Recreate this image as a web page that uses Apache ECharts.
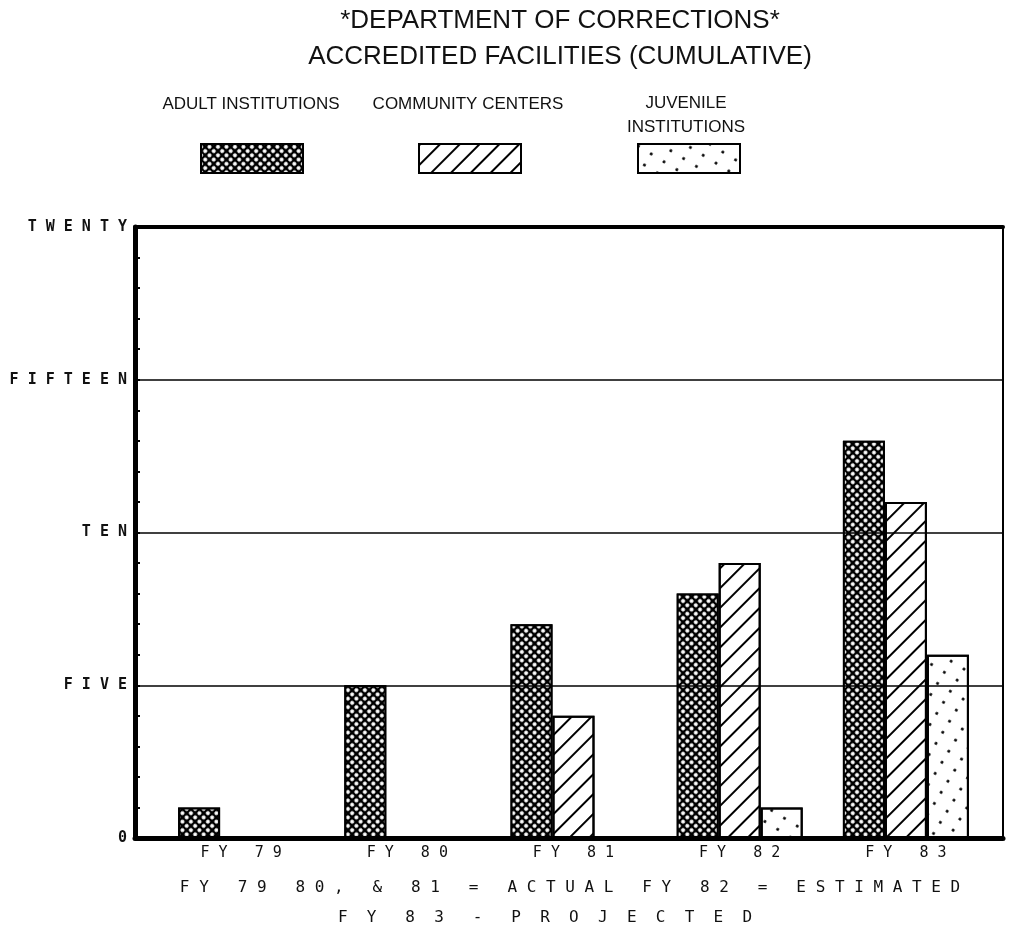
<!DOCTYPE html>
<html>
<head>
<meta charset="utf-8">
<script src="https://cdn.jsdelivr.net/npm/echarts@6/dist/echarts.min.js"></script>
<style>
  html, body { margin: 0; padding: 0; background: #fff; }
  #chart { width: 1009px; height: 946px; }
</style>
</head>
<body>
<div id="chart"></div>
<script>
// Accredited facilities per fiscal year (cumulative counts)
const categories = ['FY 79', 'FY 80', 'FY 81', 'FY 82', 'FY 83'];
const adultInstitutions = [1, 5, 7, 8, 13];
const communityCenters = [0, 0, 4, 9, 11];
const juvenileInstitutions = [0, 0, 0, 1, 6];

const seriesNames = ['ADULT INSTITUTIONS', 'COMMUNITY CENTERS', 'JUVENILE INSTITUTIONS'];
const legendLabels = [['ADULT INSTITUTIONS'], ['COMMUNITY CENTERS'], ['JUVENILE', 'INSTITUTIONS']];
const yTickValues = [0, 5, 10, 15, 20];
const yTickLabels = ['0', 'FIVE', 'TEN', 'FIFTEEN', 'TWENTY'];
const titleLines = ['*DEPARTMENT OF CORRECTIONS*', 'ACCREDITED FACILITIES (CUMULATIVE)'];
const noteLines = ['FY 79 80, & 81 = ACTUAL FY 82 = ESTIMATED', 'FY 83 - PROJECTED'];

// plotter-style lettering: blanks between letters, wider blanks between words
const spaced = (s, letterGap = 1, wordGap = 3) =>
  s.split(' ').map(w => w.split('').join(' '.repeat(letterGap))).join(' '.repeat(wordGap));

const INK = '#111';
const MONO = '"DejaVu Sans Mono", "Liberation Mono", monospace';
const SANS = '"Liberation Sans", Arial, sans-serif';

const fills = [
  { color: '#000', decal: { symbol: 'circle', color: '#fff', dashArrayX: [3.3, 1.7], dashArrayY: [3.3, 1.7], symbolSize: 1, rotation: Math.PI / 4 } },
  { color: '#fff', decal: { symbol: 'rect', color: '#000', dashArrayX: [1, 0], dashArrayY: [1.8, 11.5], symbolSize: 1, rotation: -Math.PI / 4 } },
  { color: '#fff', decal: { symbol: 'circle', color: '#000', dashArrayX: [2.4, 12], dashArrayY: [2.4, 10], symbolSize: 1, rotation: 0.55 } }
];
const seriesData = [adultInstitutions, communityCenters, juvenileInstitutions];

const legendLeft = [200, 418, 637];
const legendCenters = [251, 468, 686];

const chart = echarts.init(document.getElementById('chart'), null, { renderer: 'canvas' });

const graphics = [];
titleLines.forEach((t, i) => {
  graphics.push({
    type: 'text', x: 560, y: [21, 57][i],
    style: { text: t, font: '26px ' + SANS, fill: INK, textAlign: 'center', textVerticalAlign: 'middle' }
  });
});
legendLabels.forEach((lines, i) => {
  const ys = lines.length === 1 ? [104] : [103, 127];
  lines.forEach((t, j) => {
    graphics.push({
      type: 'text', x: legendCenters[i], y: ys[j],
      style: { text: t, font: '17px ' + SANS, fill: INK, textAlign: 'center', textVerticalAlign: 'middle' }
    });
  });
});
const noteStyle = [
  { x: 570, y: 888, letterGap: 1, wordGap: 3 },
  { x: 545, y: 918, letterGap: 2, wordGap: 3 }
];
noteLines.forEach((t, i) => {
  const s = noteStyle[i];
  graphics.push({
    type: 'text', x: s.x, y: s.y,
    style: { text: spaced(t, s.letterGap, s.wordGap), font: '16px ' + MONO, fill: INK, textAlign: 'center', textVerticalAlign: 'middle' }
  });
});

const option = {
  animation: false,
  backgroundColor: '#fff',
  legend: seriesNames.map((n, i) => ({
    data: [n], left: legendLeft[i], top: 143, icon: 'rect',
    itemWidth: 102, itemHeight: 29, selectedMode: false,
    formatter: () => '', padding: 0,
    itemStyle: { borderColor: '#000', borderWidth: 2 }
  })),
  grid: [
    // frame grid carrying the value axis and the box
    { left: 135, right: 6, top: 227, bottom: 108, show: true, borderColor: '#000', borderWidth: 2, backgroundColor: 'transparent', containLabel: false },
    // bar grid: groups sit on a slightly narrower band
    { left: 158, right: 20, top: 227, bottom: 108, containLabel: false }
  ],
  xAxis: [
    { type: 'value', gridIndex: 0, position: 'bottom', min: 0, max: 1, z: 10,
      axisLine: { show: true, lineStyle: { color: '#000', width: 5 } },
      axisTick: { show: false }, axisLabel: { show: false }, splitLine: { show: false } },
    { type: 'value', gridIndex: 0, position: 'top', min: 0, max: 1, z: 10,
      axisLine: { show: true, lineStyle: { color: '#000', width: 4 } },
      axisTick: { show: false }, axisLabel: { show: false }, splitLine: { show: false } },
    { type: 'category', gridIndex: 1, data: categories,
      axisLine: { show: false }, axisTick: { show: false },
      axisLabel: { margin: 8, color: INK, fontFamily: MONO, fontSize: 15, formatter: v => spaced(v) } }
  ],
  yAxis: [
    { type: 'value', gridIndex: 0, min: 0, max: 20, interval: 5, z: 10,
      axisLine: { show: true, lineStyle: { color: '#000', width: 5 } },
      axisTick: { show: true, inside: true, length: 5, lineStyle: { color: '#000', width: 2 } },
      minorTick: { show: true, splitNumber: 5, length: 5, lineStyle: { color: '#000', width: 2 } },
      splitLine: { show: true, lineStyle: { color: '#000', width: 1.5 } },
      axisLabel: { margin: 8, color: INK, fontFamily: MONO, fontSize: 15, fontWeight: 'bold',
        formatter: v => spaced(yTickLabels[yTickValues.indexOf(v)] || '') } },
    { type: 'value', gridIndex: 1, min: 0, max: 20, show: false }
  ],
  series: seriesNames.map((n, i) => ({
    type: 'bar', name: n, xAxisIndex: 2, yAxisIndex: 1,
    data: seriesData[i], barWidth: 42, barGap: '0%',
    itemStyle: { color: fills[i].color, decal: fills[i].decal, borderColor: '#000', borderWidth: 2 },
    emphasis: { disabled: true }
  })),
  graphic: graphics
};

chart.setOption(option);
</script>
</body>
</html>
